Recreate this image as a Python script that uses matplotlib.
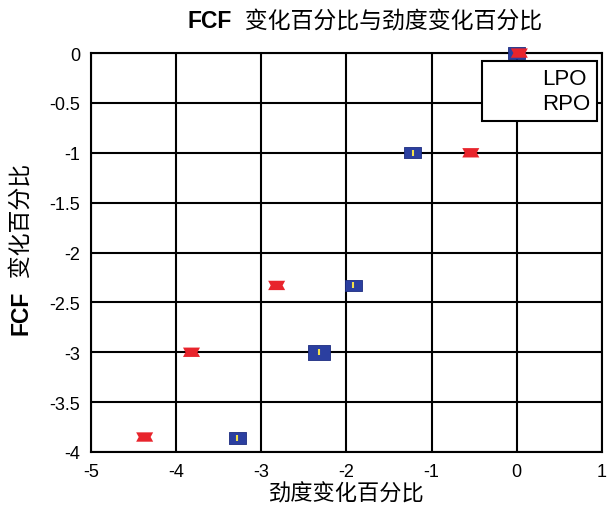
import matplotlib.pyplot as plt
from matplotlib.lines import Line2D

plt.rcParams['font.family'] = ['Liberation Sans', 'Noto Sans CJK SC', 'DejaVu Sans']
plt.rcParams['axes.unicode_minus'] = False

# percentage change of stiffness (x) vs percentage change of FCF (y)
lpo_x = [0.0, -1.22, -1.92, -2.32, -3.28]
lpo_y = [0.0, -1.0, -2.33, -3.0, -3.86]
rpo_x = [0.03, -0.54, -2.82, -3.82, -4.37]
rpo_y = [0.0, -1.0, -2.33, -3.0, -3.85]

xticks = [-5, -4, -3, -2, -1, 0, 1]
yticks = [0, -0.5, -1, -1.5, -2, -2.5, -3, -3.5, -4]
ytick_labels = ['0', '-0.5', '-1', '-1.5', '-2', '-2.5', '-3', '-3.5', '-4']

# marker shapes: flat box for LPO, notched bar for RPO
box = [(-1.5, -1), (1.5, -1), (1.5, 1), (-1.5, 1), (-1.5, -1)]
notch = [(-1, -0.55), (1, -0.55), (0.7, 0), (1, 0.55), (-1, 0.55), (-0.7, 0), (-1, -0.55)]

fig = plt.figure(figsize=(6.08, 5.10), dpi=100)
ax = fig.add_axes([0.1497, 0.1118, 0.8403, 0.7822])

sizes = [150, 150, 150, 260, 150]
ax.scatter(lpo_x, lpo_y, marker=box, s=sizes, c='#2b3fa0', edgecolors='#1c2c80',
           linewidths=0.6, zorder=3, clip_on=False)
ax.scatter(lpo_x, lpo_y, marker='|', s=25, c='#f2e04a', linewidths=1.5, zorder=4,
           clip_on=False)
ax.scatter(rpo_x, rpo_y, marker=notch, s=150, c='#e8242c', edgecolors='none',
           zorder=5, clip_on=False)

ax.set_xlim(-5, 1)
ax.set_ylim(-4, 0)
ax.set_xticks(xticks)
ax.set_yticks(yticks)
ax.set_yticklabels(ytick_labels)
ax.tick_params(length=0, labelsize=13, pad=8)
ax.grid(True, color='black', linewidth=1.5)
ax.set_axisbelow(True)
for sp in ax.spines.values():
    sp.set_linewidth(1.5)

blank = [Line2D([], [], linestyle='none'), Line2D([], [], linestyle='none')]
leg = ax.legend(blank, ['LPO', 'RPO'], loc='upper right', bbox_to_anchor=(0.99, 0.98),
                handlelength=2.2, handletextpad=0.2, fontsize=16, frameon=True,
                fancybox=False, framealpha=1, edgecolor='black', borderpad=0.3,
                labelspacing=0.2, borderaxespad=0)
leg.get_frame().set_linewidth(1.5)
leg.set_zorder(6)

# title and y label: bold "FCF" followed by the Chinese part
t1 = fig.text(0.309, 0.957, 'FCF', ha='left', va='center', fontsize=16.5,
              fontweight='bold')
ax.annotate('  变化百分比与劲度变化百分比', xy=(1, 0.5), xycoords=t1, ha='left',
            va='center', fontsize=16.5, fontweight='medium', annotation_clip=False)

ax.set_xlabel('劲度变化百分比', fontsize=16, fontweight='medium', labelpad=2)

y1 = fig.text(0.035, 0.343, 'FCF', ha='center', va='bottom', rotation=90,
              fontsize=16.5, fontweight='bold')
ax.annotate('  变化百分比', xy=(0.5, 1), xycoords=y1, ha='center', va='bottom',
            rotation=90, fontsize=16.5, fontweight='medium', annotation_clip=False)

fig.savefig('out.png', dpi=100)
